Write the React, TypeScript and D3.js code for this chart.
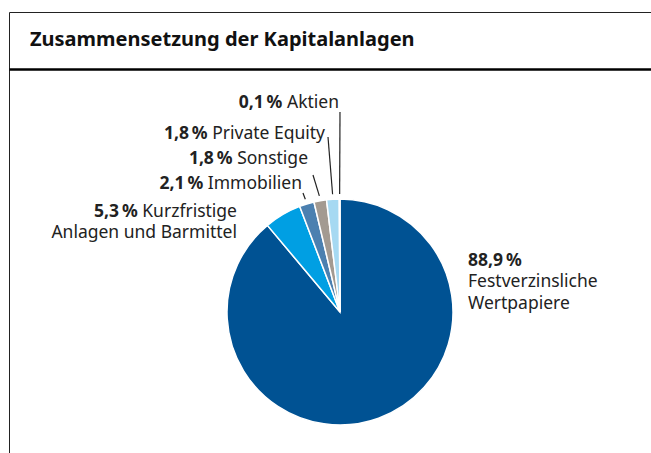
import React from "react";
import * as d3 from "d3";

const categories = [
  "Festverzinsliche Wertpapiere",
  "Kurzfristige Anlagen und Barmittel",
  "Immobilien",
  "Sonstige",
  "Private Equity",
  "Aktien",
];
const values = [88.9, 5.3, 2.1, 1.8, 1.8, 0.1];
const valueLabels = ["88,9\u202f%", "5,3\u202f%", "2,1\u202f%", "1,8\u202f%", "1,8\u202f%", "0,1\u202f%"];
const colors = ["#005293", "#009fe3", "#4b80b0", "#a39a91", "#a6d9f2", "#d7eef9"];

const W = 651;
const H = 453;
const cx = 340;
const cy = 312;
const R = 113;
const FONT = "'Noto Sans', sans-serif";
const FS = 17.5;

export default function App() {
  const pie = d3
    .pie<number>()
    .sort(null)
    .value((d) => d);
  const arcs = pie(values);
  const arcGen = d3.arc<d3.PieArcDatum<number>>().innerRadius(0).outerRadius(R);

  const leaderEnds: Record<number, { x: number; y: number; tx: number; ty: number; lines: string[] }> = {
    5: { x: 340, y: 112, tx: 339, ty: 108, lines: ["Aktien"] },
    4: { x: 328, y: 137, tx: 325, ty: 139, lines: ["Private Equity"] },
    3: { x: 313, y: 175, tx: 308, ty: 164, lines: ["Sonstige"] },
    2: { x: 303, y: 193, tx: 302, ty: 189, lines: ["Immobilien"] },
  };

  const pt = (a: d3.PieArcDatum<number>, r: number) => {
    const ang = (a.startAngle + a.endAngle) / 2;
    return [cx + Math.sin(ang) * r, cy - Math.cos(ang) * r];
  };

  return (
    <svg width={W} height={H} style={{ position: "absolute", left: 0, top: 0 }}>
      <rect x={0} y={0} width={W} height={H} fill="#fff" />
      <line x1={9.5} y1={12.5} x2={W} y2={12.5} stroke="#222" strokeWidth={1} />
      <line x1={9.5} y1={12.5} x2={9.5} y2={H} stroke="#222" strokeWidth={1} />
      <line x1={9.5} y1={69.5} x2={W} y2={69.5} stroke="#000" strokeWidth={2.5} />
      <text x={30} y={46} fontFamily={FONT} fontWeight={700} fontSize={20} fill="#111">
        Zusammensetzung der Kapitalanlagen
      </text>

      <g transform={`translate(${cx},${cy})`}>
        {arcs.map((a, i) => (
          <path key={i} d={arcGen(a) || ""} fill={colors[i]} stroke="#fff" strokeWidth={1.5} />
        ))}
      </g>

      {[2, 3, 4, 5].map((i) => {
        const a = arcs[i];
        const le = leaderEnds[i];
        const [sx, sy] = pt(a, R + 5);
        return (
          <g key={i}>
            <line x1={sx} y1={sy} x2={le.x} y2={le.y} stroke="#222" strokeWidth={1.2} />
            <text x={le.tx} y={le.ty} textAnchor="end" fontFamily={FONT} fontSize={FS} fill="#222">
              <tspan fontWeight={700}>{valueLabels[i]}</tspan>
              <tspan> {le.lines[0]}</tspan>
            </text>
          </g>
        );
      })}

      <text x={237} y={217} textAnchor="end" fontFamily={FONT} fontSize={FS} fill="#222">
        <tspan fontWeight={700}>{valueLabels[1]}</tspan>
        <tspan> Kurzfristige</tspan>
      </text>
      <text x={237} y={238} textAnchor="end" fontFamily={FONT} fontSize={FS} fill="#222">
        Anlagen und Barmittel
      </text>

      <text x={468} y={266} fontFamily={FONT} fontSize={FS} fill="#222">
        <tspan fontWeight={700}>{valueLabels[0]}</tspan>
      </text>
      <text x={468} y={287} fontFamily={FONT} fontSize={FS} fill="#222">
        Festverzinsliche
      </text>
      <text x={468} y={309} fontFamily={FONT} fontSize={FS} fill="#222">
        Wertpapiere
      </text>
    </svg>
  );
}
